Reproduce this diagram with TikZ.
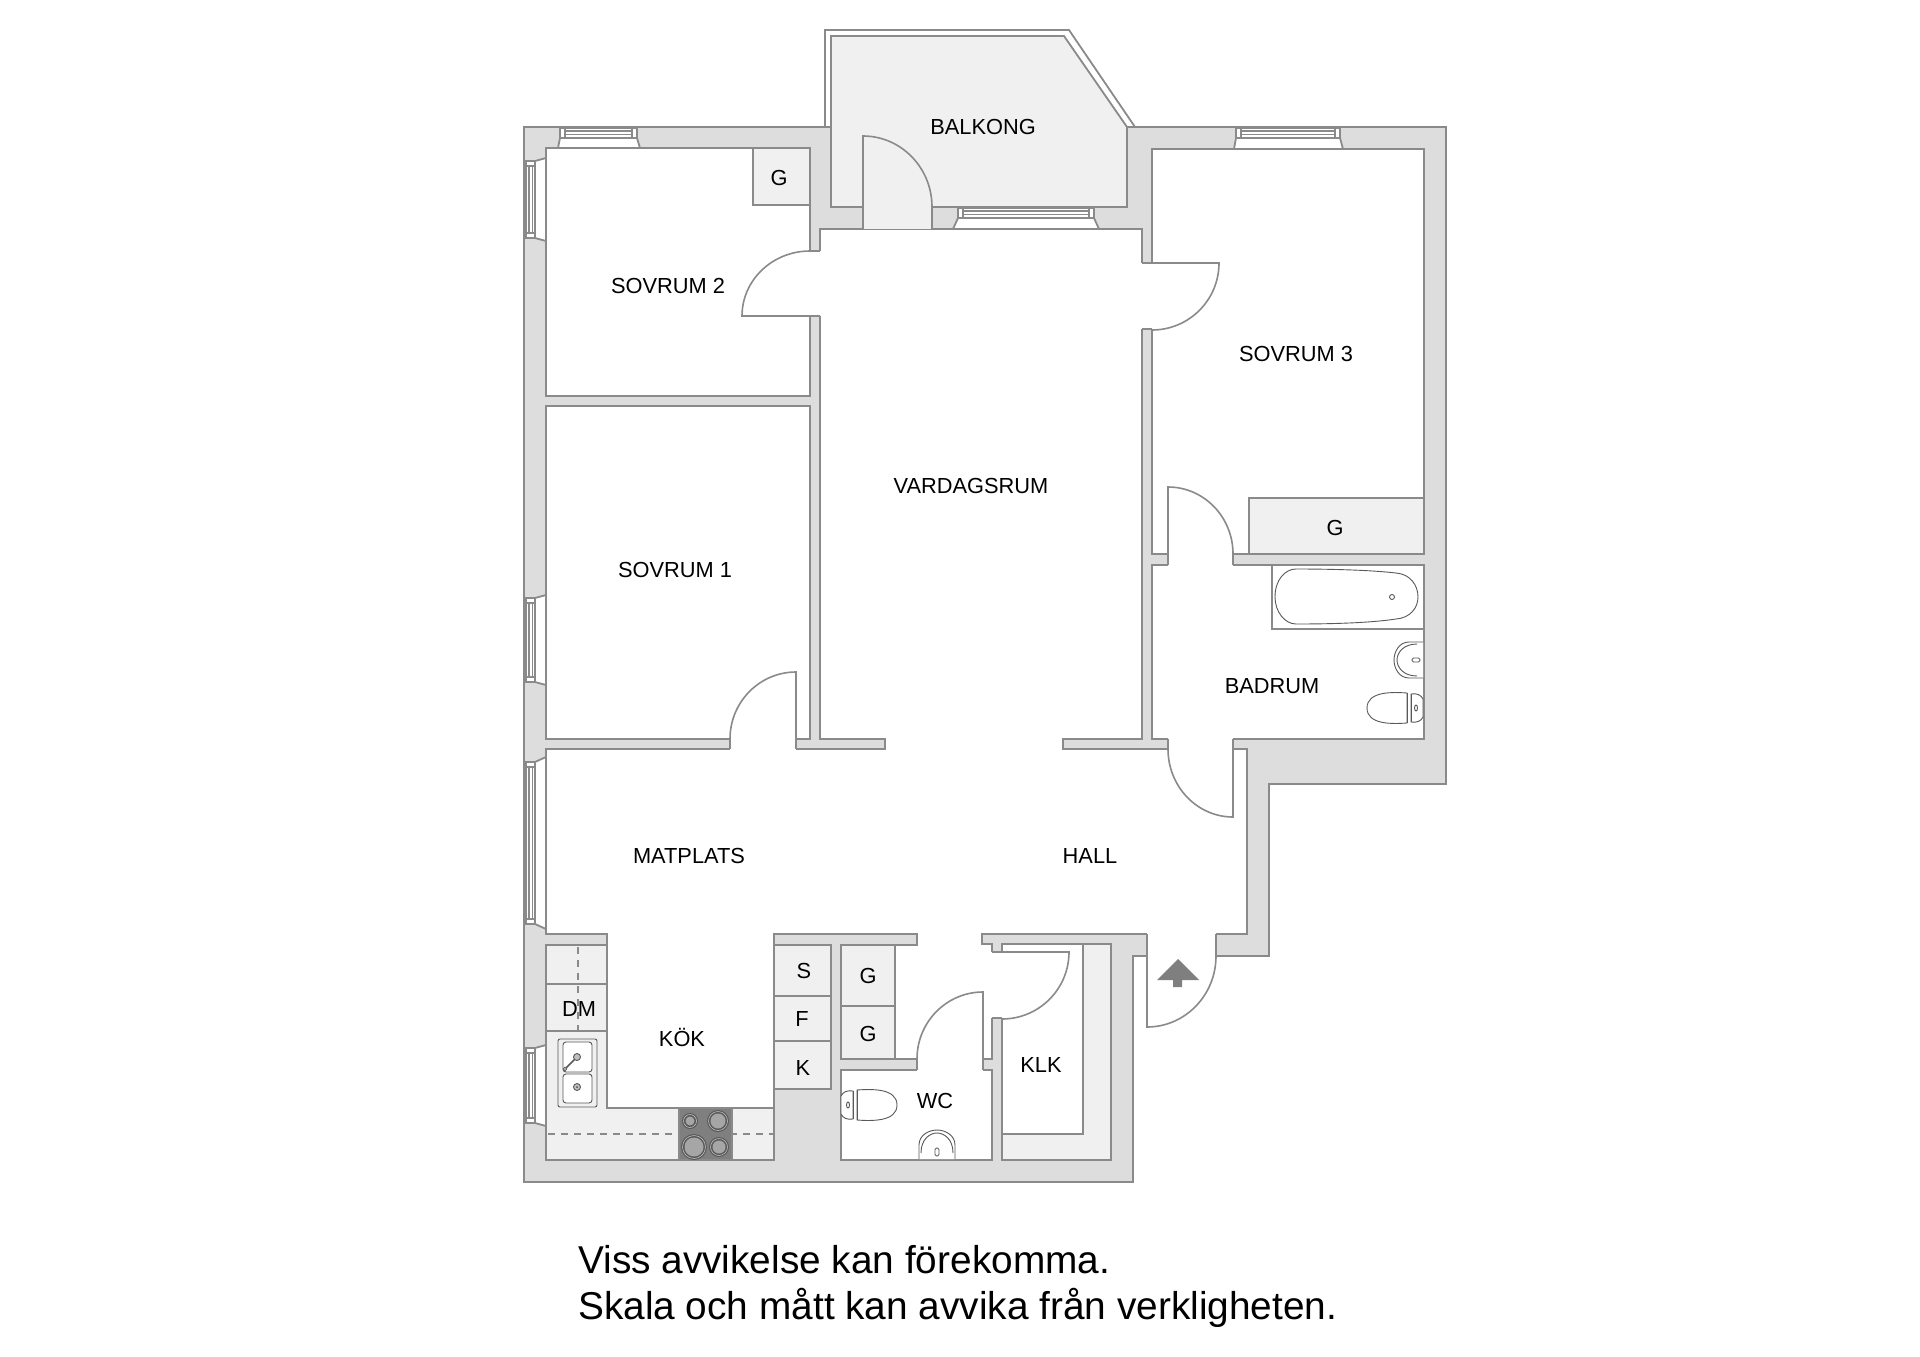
\documentclass[tikz,border=0pt]{standalone}
\usepackage{fontspec}
\setmainfont{Liberation Sans}
\definecolor{wallgrey}{HTML}{DDDDDD}
\definecolor{linegrey}{HTML}{8A8A8A}
\definecolor{fitgrey}{HTML}{F0F0F0}
\definecolor{hobgrey}{HTML}{7F7F7F}
\tikzset{
  wallline/.style={draw=linegrey,line width=1.8pt,line join=miter},
  wall/.style={wallline,fill=wallgrey},
  room/.style={wallline,fill=white},
  fitment/.style={wallline,fill=fitgrey},
  leaf/.style={draw=linegrey,line width=1.6pt},
  thinline/.style={draw=black!65,line width=0.9pt},
  cutline/.style={draw=linegrey,line width=1.4pt,dash pattern=on 7pt off 6pt},
  roomlabel/.style={font=\fontsize{21.8}{24}\selectfont,inner sep=0pt,yshift=-0.8pt},
  notelabel/.style={font=\fontsize{38.8}{44}\selectfont,inner sep=0pt,anchor=base west},
  toilet/.pic={
    \draw[thinline,fill=white] (-16,-15) .. controls (-30,-16) and (-56,-17) .. (-56,0) .. controls (-56,17) and (-30,16) .. (-16,15) -- cycle;
    \draw[thinline,fill=white] (-12,-14) .. controls (-6,-15) and (-2,-13) .. (0,-9) -- (0,9) .. controls (-2,13) and (-6,15) .. (-12,14) -- cycle;
    \draw[thinline] (-16,-15) -- (-16,15) (-12,-14) -- (-12,14);
    \draw[thinline] (-7,0) ellipse [x radius=1.5,y radius=3];
  },
  washbasin/.pic={
    \draw[thinline,fill=white] (0,-18) -- (-14,-18) .. controls (-24,-18) and (-29,-8) .. (-29,0) .. controls (-29,8) and (-24,18) .. (-14,18) -- (0,18);
    \draw[thinline] (-6,-16) .. controls (-20,-16) and (-26,-7) .. (-26,0) .. controls (-26,7) and (-20,16) .. (-6,16);
    \draw[thinline,rounded corners=1.5pt] (-11,-2) rectangle (-3,2);
  }
}
\begin{document}
\begin{tikzpicture}[x=1pt,y=-1pt]
\useasboundingbox (0,0) rectangle (1920,1357);
% balcony
\draw[wallline] (825,127) -- (825,30) -- (1069,30) -- (1135,127);
\draw[fitment] (831,36) -- (1064,36) -- (1127,127) -- (1127,207) -- (831,207) -- cycle;
% outer walls
\draw[wall] (524,127) -- (831,127) -- (831,207) -- (1127,207) -- (1127,127) -- (1446,127) -- (1446,784) -- (1269,784) -- (1269,956) -- (1133,956) -- (1133,1182) -- (524,1182) -- cycle;
% windows
\foreach \sa/\fa/\fb/\sb/\ya/\yb in {558/560/637/640/128/148, 1234/1236/1340/1343/128/149, 953/958/1094/1099/208/229} {
  \draw[wallline,fill=white] (\sa,\yb) -- (\fa,\ya+10) -- (\fb,\ya+10) -- (\sb,\yb);
  \draw[wallline,fill=white] (\fa,\ya) rectangle (\fb,\ya+10);
  \draw[wallline,line width=1.3pt] (\fa+5,\ya) -- (\fa+5,\ya+10) (\fb-5,\ya) -- (\fb-5,\ya+10) (\fa+5,\ya+3) rectangle (\fb-5,\ya+6.5);
}
\foreach \sa/\fa/\fb/\sb in {158/161/238/241, 595/598/682/685, 757/762/924/929, 1045/1048/1123/1126} {
  \draw[wallline,fill=white] (546,\sa) -- (535,\fa) -- (535,\fb) -- (546,\sb);
  \draw[wallline,fill=white] (526,\fa) rectangle (535,\fb);
  \draw[wallline,line width=1.3pt] (526,\fa+5) -- (535,\fa+5) (526,\fb-5) -- (535,\fb-5) (529,\fa+5) rectangle (532.5,\fb-5);
}
% rooms
\draw[room] (546,148) rectangle (810,396);
\draw[room] (546,406) rectangle (810,739);
\draw[room] (1152,149) -- (1424,149) -- (1424,554) -- (1152,554) -- cycle;
\draw[room] (1152,565) rectangle (1424,739);
\draw[room] (841,1070) rectangle (992,1160);
\draw[fitment] (1002,944) rectangle (1111,1160);
\draw[room] (1002,944) rectangle (1083,1134);
\draw[room] (820,229) -- (1142,229) -- (1142,739) -- (1063,739) -- (1063,749) -- (1247,749) -- (1247,934) -- (1216,934) -- (1216,956) -- (1147,956) -- (1147,934) -- (982,934) -- (982,944) -- (992,944) -- (992,1059) -- (895,1059) -- (895,945) -- (917,945) -- (917,934) -- (774,934) -- (774,1108) -- (607,1108) -- (607,934) -- (546,934) -- (546,749) -- (885,749) -- (885,739) -- (820,739) -- cycle;
% door openings
\foreach \xa/\ya/\xb/\yb in {730/739/796/749, 1168/554/1233/565, 1168/739/1233/749, 917/1059/983/1070, 1147/934/1216/956} {
  \fill[white] (\xa,\ya-1.5) rectangle (\xb,\yb+1.5);
  \draw[wallline] (\xa,\ya) -- (\xa,\yb) (\xb,\ya) -- (\xb,\yb);
}
\foreach \xa/\ya/\xb/\yb in {810/251/820/316, 1142/263/1152/329, 992/952/1002/1018} {
  \fill[white] (\xa-1.5,\ya) rectangle (\xb+1.5,\yb);
  \draw[wallline] (\xa,\ya) -- (\xb,\ya) (\xa,\yb) -- (\xb,\yb);
}
\fill[fitgrey] (863,205) rectangle (932,229);
\draw[wallline] (863,207) -- (863,229) (932,207) -- (932,229);
% door leaves
\draw[leaf] (820,316) -- (742,316) arc[start angle=180,end angle=270,x radius=68,y radius=65];
\draw[leaf] (1142,263) -- (1219,263) arc[start angle=0,end angle=90,radius=67];
\draw[leaf] (1168,554) -- (1168,487) arc[start angle=270,end angle=360,x radius=65,y radius=67];
\draw[leaf] (1233,749) -- (1233,817) arc[start angle=90,end angle=180,x radius=65,y radius=68];
\draw[leaf] (796,739) -- (796,672) arc[start angle=270,end angle=180,x radius=66,y radius=67];
\draw[leaf] (983,1059) -- (983,992) arc[start angle=270,end angle=180,x radius=66,y radius=67];
\draw[leaf] (992,952) -- (1069,952) arc[start angle=0,end angle=90,radius=67];
\draw[leaf] (1147,956) -- (1147,1027) arc[start angle=90,end angle=0,x radius=69,y radius=71];
\draw[leaf] (863,207) -- (863,136) arc[start angle=270,end angle=360,x radius=69,y radius=71];
% cupboards
\draw[fitment] (753,148) rectangle (810,205);
\draw[fitment] (1249,498) rectangle (1424,554);
\draw[fitment] (774,945) rectangle (831,996);
\draw[fitment] (774,996) rectangle (831,1041);
\draw[fitment] (774,1041) rectangle (831,1089);
\draw[fitment] (841,945) rectangle (895,1006);
\draw[fitment] (841,1006) rectangle (895,1059);
% kitchen
\draw[fitment] (546,945) -- (607,945) -- (607,1108) -- (774,1108) -- (774,1160) -- (546,1160) -- cycle;
\draw[wallline] (546,984) -- (607,984) (546,1031) -- (607,1031);
\draw[cutline] (578,947) -- (578,1030);
\draw[cutline] (548,1134) -- (773,1134);
\draw[wallline,fill=hobgrey] (679,1108) rectangle (732,1160);
\foreach \cx/\cy/\rb in {690/1121/8, 718/1121/11, 694/1147/13, 719/1147/10} {
  \fill[black!65] (\cx,\cy) circle[radius=\rb];
  \draw[white!75!black,line width=0.6pt] (\cx,\cy) circle[radius=\rb-1.5];
  \fill[black!35] (\cx,\cy) circle[radius=\rb-3.5];
}
\draw[thinline,fill=fitgrey,rounded corners=2pt] (558,1039) rectangle (597,1107);
\draw[thinline,fill=white,rounded corners=3pt] (563,1042) rectangle (592,1072);
\draw[thinline,fill=white,rounded corners=3pt] (563,1074) rectangle (592,1103);
\draw[thinline,line width=1.6pt] (577,1057) -- (565,1069);
\draw[thinline,fill=black!25] (577,1057) circle[radius=3.5];
\draw[thinline,fill=white] (565,1069) circle[radius=1.8];
\draw[thinline,fill=black!25] (577,1087) circle[radius=3.5];
\fill[black!70] (577,1087) circle[radius=1];
% bathroom
\draw[thinline,draw=linegrey,line width=1.3pt] (1424,629) -- (1272,629) -- (1272,565);
\draw[thinline,fill=white] (1275,597) .. controls (1275,580) and (1285,569) .. (1296,569) .. controls (1330,569) and (1370,570) .. (1396,573) .. controls (1410,574) and (1418,585) .. (1418,597) .. controls (1418,608) and (1410,618) .. (1396,619) .. controls (1370,623) and (1330,624) .. (1296,624) .. controls (1285,624) and (1275,612) .. (1275,597) -- cycle;
\draw[thinline] (1392,597) circle[radius=2.5];
\pic at (1423,660) {washbasin};
\pic at (1423,708) {toilet};
\pic at (841,1105) [rotate=180] {toilet};
\pic at (937,1159) [rotate=-90] {washbasin};
% entrance arrow
\fill[hobgrey] (1178,959) -- (1199,980) -- (1182,980) -- (1182,987) -- (1173,987) -- (1173,980) -- (1157,980) -- cycle;
% labels
\node[roomlabel] (balkong) at (983,126) {BALKONG};
\node[roomlabel] (sovrum2) at (668,285) {SOVRUM 2};
\node[roomlabel] (sovrum3) at (1296,353) {SOVRUM 3};
\node[roomlabel] (sovrum1) at (675,569) {SOVRUM 1};
\node[roomlabel] (vardagsrum) at (971,485) {VARDAGSRUM};
\node[roomlabel] (badrum) at (1272,685) {BADRUM};
\node[roomlabel] (matplats) at (689,855) {MATPLATS};
\node[roomlabel] (hall) at (1090,855) {HALL};
\node[roomlabel] (kok) at (682,1037) {KÖK};
\node[roomlabel] (wc) at (935,1100) {WC};
\node[roomlabel] (klk) at (1041,1064) {KLK};
\node[roomlabel] (dm) at (579,1008) {DM};
\node[roomlabel] (ga) at (779,177) {G};
\node[roomlabel] (gb) at (1335,527) {G};
\node[roomlabel] (gc) at (868,975) {G};
\node[roomlabel] (gd) at (868,1033) {G};
\node[roomlabel] (s) at (804,970) {S};
\node[roomlabel] (f) at (802,1018) {F};
\node[roomlabel] (k) at (803,1067) {K};
\node[notelabel] (notea) at (578,1273) {Viss avvikelse kan förekomma.};
\node[notelabel] (noteb) at (578,1319) {Skala och mått kan avvika från verkligheten.};
\end{tikzpicture}
\end{document}
